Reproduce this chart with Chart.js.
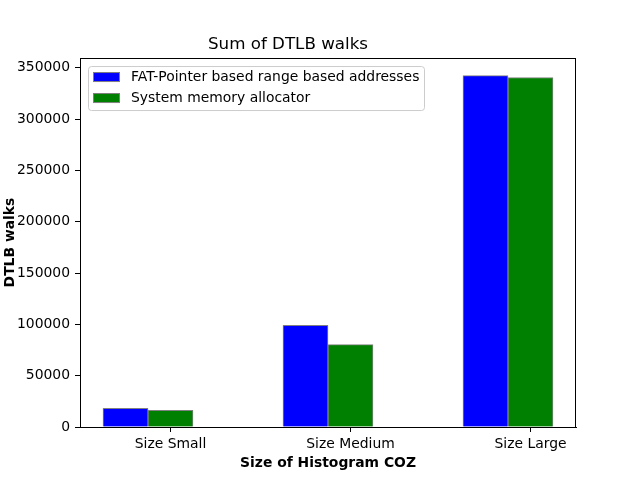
<!DOCTYPE html>
<html>
<head>
<meta charset="utf-8">
<script src="https://cdn.jsdelivr.net/npm/chart.js@4.4.1/dist/chart.umd.min.js"></script>
<style>
  html,body{margin:0;padding:0;background:#fff;}
  #wrap{width:640px;height:480px;}
</style>
</head>
<body>
<div id="wrap"><canvas id="chart" width="640" height="480"></canvas></div>
<script>
/* ---- data ---- */
const categories = ['Size Small', 'Size Medium', 'Size Large'];
const fatPointer = [18200, 99100, 342500];
const sysAlloc   = [16300, 80300, 340600];
const yTicks     = [0, 50000, 100000, 150000, 200000, 250000, 300000, 350000];
const barW = 0.25;

const FONT = 'DejaVu Sans';

/* matplotlib style legend + box frame */
const mplBits = {
  id:'mplBits',
  afterDatasetsDraw(chart){
    const {ctx, chartArea:a} = chart;
    ctx.save();
    // legend
    const x0=a.left+8, y0=a.top+8, w=336, h=44;
    ctx.beginPath();
    ctx.roundRect(x0+0.5, y0+0.5, w, h, 3);
    ctx.fillStyle='rgba(255,255,255,0.8)';
    ctx.fill();
    ctx.strokeStyle='#cccccc';
    ctx.lineWidth=1;
    ctx.stroke();
    ctx.font='13.9px "'+FONT+'"';
    ctx.textBaseline='middle';
    chart.data.datasets.forEach((ds,i)=>{
      const ry = y0+10+i*21;
      ctx.fillStyle=ds.backgroundColor;
      ctx.fillRect(x0+5, ry-4, 27, 9.5);
      ctx.strokeStyle='#808080';
      ctx.strokeRect(x0+5.5, ry-3.5, 26, 9);
      ctx.fillStyle='#000';
      ctx.fillText(ds.label, x0+43, ry+1);
    });
    ctx.restore();
  },
  afterDraw(chart){
    const {ctx, chartArea:a} = chart;
    ctx.save();
    ctx.strokeStyle='#000';
    ctx.lineWidth=1;
    ctx.strokeRect(Math.round(a.left)+0.5, Math.round(a.top)+0.5,
                   Math.round(a.right-a.left)-1, Math.round(a.bottom-a.top));
    ctx.restore();
  }
};

new Chart(document.getElementById('chart'),{
  type:'bar',
  data:{
    datasets:[
      { label:'FAT-Pointer based range based addresses',
        data:fatPointer.map((v,i)=>({x:i, y:v})),
        backgroundColor:'#0000ff', borderColor:'#808080', borderWidth:1 },
      { label:'System memory allocator',
        data:sysAlloc.map((v,i)=>({x:i+barW, y:v})),
        backgroundColor:'#008000', borderColor:'#808080', borderWidth:1 }
    ]
  },
  options:{
    responsive:false,
    animation:false,
    grouped:false,
    barPercentage:1,
    categoryPercentage:1,
    layout:{ padding:{ left:0, right:64, top:0, bottom:0 } },
    plugins:{
      legend:{ display:false },
      tooltip:{ enabled:false },
      title:{ display:true, text:'Sum of DTLB walks', color:'#000',
              font:{ family:FONT, size:16.7, weight:'normal' },
              padding:{ top:35, bottom:3 } }
    },
    scales:{
      x:{
        type:'linear', offset:false,
        min:-0.2528, max:2.5028,
        afterBuildTicks:s=>{ s.ticks = categories.map((c,i)=>({value:i+barW})); },
        afterFit:s=>{ s.height = 53; },
        ticks:{ color:'#000', font:{family:FONT, size:13.9}, padding:4,
                callback:v=>categories[Math.round(v-barW)] },
        grid:{ drawOnChartArea:false, offset:false, color:'#000', tickLength:5 },
        border:{ color:'#000' },
        title:{ display:true, text:'Size of Histogram COZ', color:'#000',
                font:{family:FONT, size:13.9, weight:'bold'}, padding:{top:0, bottom:8} }
      },
      y:{
        min:0, max:359600,
        afterBuildTicks:s=>{ s.ticks = yTicks.map(v=>({value:v})); },
        afterFit:s=>{ s.width = 80; },
        ticks:{ color:'#000', font:{family:FONT, size:13.9}, padding:5,
                callback:v=>String(v) },
        grid:{ drawOnChartArea:false, color:'#000', tickLength:5 },
        border:{ color:'#000' },
        title:{ display:true, text:'DTLB walks', color:'#000',
                font:{family:FONT, size:13.9, weight:'bold'}, padding:{top:2, bottom:0} }
      }
    }
  },
  plugins:[mplBits]
});
</script>
</body>
</html>
